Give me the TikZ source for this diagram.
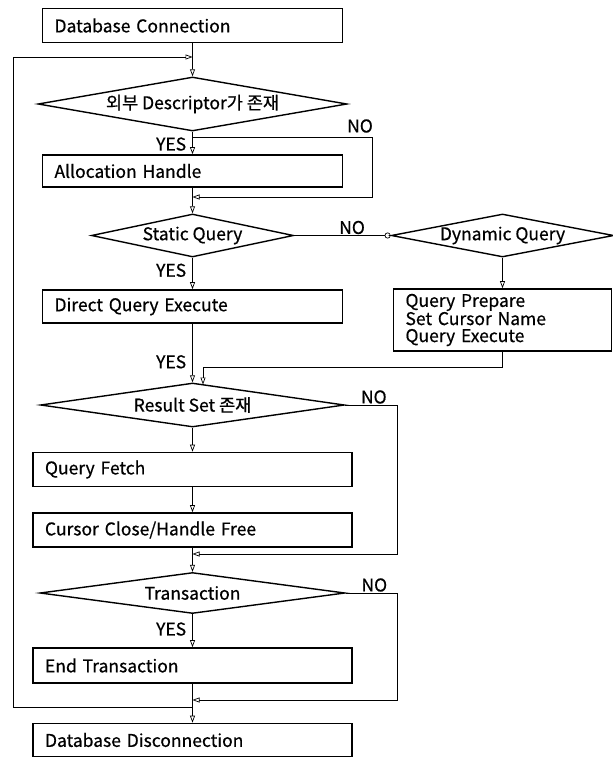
\documentclass[tikz,border=0pt]{standalone}
\usepackage{fontspec}
\setmainfont[FakeBold=0.6,AutoFakeBold=0.6]{Noto Sans CJK KR}
\usetikzlibrary{shapes}
\usetikzlibrary{positioning}
\usetikzlibrary{arrows.meta}
\newcommand{\fsz}{\fontsize{17.5}{17}\selectfont}
\tikzset{
    box/.style = {rectangle, draw=black, line width=1.6pt, minimum width=300pt, minimum height=34pt, text width=276pt, inner xsep=12pt, inner ysep=0pt, align=left, font=\fsz},
    boxw/.style = {box, minimum width=319pt, text width=295pt},
    dia/.style = {diamond, draw=black, line width=1.4pt, shape aspect=5.5, inner sep=0pt, font=\fsz},
    edgen/.style = {-{Triangle[open,length=7pt,width=5pt]}, line width=0.7pt},
    edgec/.style = {-{Circle[open,length=6pt]}, line width=0.7pt},
    lbl/.style = {font=\fsz, inner sep=1pt},
    yes/.style = {lbl, left=5pt},
}

\begin{document}
\begin{tikzpicture}[x=1pt,y=-1pt]
\useasboundingbox (0,0) rectangle (613,758);
\node[box] at (192.5, 25.5) (conn) {Database Connection};
\node[dia, minimum width=309pt, minimum height=54pt] at (192.5, 104) (desc) {외부 Descriptor가 존재};
\node[box, minimum height=32pt] at (192.5, 171) (alloc) {Allocation Handle};
\node[dia, minimum width=202pt, minimum height=43pt] at (192.5, 235.5) (stat) {Static Query};
\node[dia, minimum width=205pt, minimum height=43pt] at (502.5, 235.5) (dyn) {Dynamic Query};
\node[box, minimum height=33pt] at (192.5, 306.5) (direct) {Direct Query Execute};
\node[box, minimum width=218pt, text width=194pt, minimum height=62pt] at (502.5, 320) (prep) {Query Prepare\\Set Cursor Name\\Query Execute};
\node[dia, minimum width=304pt, minimum height=44pt] at (192.5, 405) (rset) {Result Set 존재};
\node[boxw] at (192.5, 469.5) (fetch) {Query Fetch};
\node[boxw] at (192.5, 530) (close) {Cursor Close/Handle Free};
\node[dia, minimum width=305pt, minimum height=41pt] at (192.5, 593) (trans) {Transaction};
\node[boxw, minimum height=35pt] at (192.5, 665.5) (endtx) {End Transaction};
\node[boxw, minimum height=33pt] at (192.5, 740) (disc) {Database Disconnection};
%
\coordinate (j1) at (192.5, 57);
\coordinate (j2) at (192.5, 137);
\coordinate (j3) at (192.5, 197);
\coordinate (j4) at (192.5, 554);
\coordinate (j5) at (192.5, 700);
\coordinate (j6) at (192.5, 707);
\coordinate (ltop) at (13, 57);
\coordinate (lbot) at (13, 707);
\coordinate (m2) at (203, 384.5);
%
\draw[edgen] (conn.south) -- (desc.north);
\draw[edgen] (j6) -- (lbot) -- (ltop) -- (j1);
\draw[edgen] (desc.south) -- node[yes, pos=0.55] {YES} (alloc.north);
\draw[edgen] (j2) -- ++(179.5,0) |- (j3);
\node[lbl] at (360, 126) {NO};
\draw[edgen] (alloc.south) -- (stat.north);
\draw[edgec] (stat) -- node[lbl, above, pos=0.6] {NO} (dyn);
\draw[edgen] (stat.south) -- node[yes, pos=0.4] {YES} (direct.north);
\draw[edgen] (dyn.south) -- (prep.north);
\draw[edgen] (direct.south) -- node[yes, pos=0.65] {YES} (rset.north);
\draw[edgen] (prep.south) -- ++(0,16) -| (m2);
\draw[edgen] (rset.east) -- node[lbl, above, pos=0.55] {NO} ++(52,0) |- (j4);
\draw[edgen] (rset.south) -- (fetch.north);
\draw[edgen] (fetch.south) -- (close.north);
\draw[edgen] (close.south) -- (trans.north);
\draw[edgen] (trans.east) -- node[lbl, above, pos=0.55] {NO} ++(52,0) |- (j5);
\draw[edgen] (trans.south) -- node[yes, pos=0.45] {YES} (endtx.north);
\draw[edgen] (endtx.south) -- (disc.north);

\end{tikzpicture}
\end{document}
